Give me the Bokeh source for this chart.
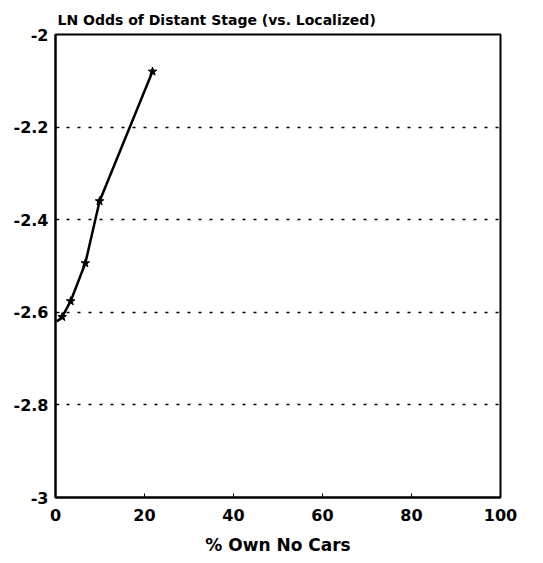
from bokeh.plotting import figure
from bokeh.models import Range1d, FixedTicker
from bokeh.embed import file_html
from bokeh.resources import INLINE

# data
pct_no_cars = [0.3, 1.5, 3.4, 6.7, 9.9, 21.8]
ln_odds = [-2.62, -2.61, -2.576, -2.494, -2.36, -2.08]
marker_x = [1.5, 3.4, 6.7, 9.9, 21.8]
marker_y = [-2.61, -2.576, -2.494, -2.36, -2.08]
x_ticks = [0, 20, 40, 60, 80, 100]
y_ticks = [-3, -2.8, -2.6, -2.4, -2.2, -2]
y_tick_labels = {-3: "-3", -2.8: "-2.8", -2.6: "-2.6", -2.4: "-2.4", -2.2: "-2.2", -2: "-2"}
grid_lines = [-2.8, -2.6, -2.4, -2.2]

FONT = "DejaVu Sans"

p = figure(width=535, height=555, output_backend="svg", toolbar_location=None,
           x_range=Range1d(0, 100), y_range=Range1d(-3, -2),
           min_border_left=55, min_border_right=35, min_border_top=34, min_border_bottom=58,
           title="LN Odds of Distant Stage (vs. Localized)")
p.frame_width = 445
p.frame_height = 463

p.title.text_font = FONT
p.title.text_font_style = "bold"
p.title.text_font_size = "14px"
p.title.text_color = "black"
p.title.align = "left"
p.title.offset = 2
p.title.standoff = 14

p.outline_line_color = "black"
p.outline_line_width = 2
p.background_fill_color = "white"
p.border_fill_color = "white"

p.xgrid.visible = False
p.ygrid.ticker = FixedTicker(ticks=grid_lines)
p.ygrid.grid_line_color = "black"
p.ygrid.grid_line_dash = "3 8"
p.ygrid.grid_line_width = 1.5

for ax in (p.xaxis[0], p.yaxis[0]):
    ax.axis_line_color = "black"
    ax.axis_line_width = 2
    ax.major_tick_in = 4
    ax.major_tick_out = 0
    ax.minor_tick_line_color = None
    ax.major_label_text_font = FONT
    ax.major_label_text_font_style = "bold"
    ax.major_label_text_font_size = "16px"
    ax.major_label_text_color = "black"

p.xaxis.ticker = FixedTicker(ticks=x_ticks)
p.xaxis.major_label_standoff = 11
p.xaxis.axis_label = "% Own No Cars"
p.xaxis.axis_label_text_font = FONT
p.xaxis.axis_label_text_font_style = "bold"
p.xaxis.axis_label_text_font_size = "17px"
p.xaxis.axis_label_text_color = "black"
p.xaxis.axis_label_standoff = 11

p.yaxis.ticker = FixedTicker(ticks=y_ticks)
p.yaxis.major_label_overrides = y_tick_labels
p.yaxis.major_label_standoff = 7

p.line(pct_no_cars, ln_odds, line_color="black", line_width=2.5)
p.scatter(marker_x, marker_y, marker="star", size=9, fill_color="black", line_color="black")

open("out.html", "w").write(file_html(p, INLINE))
